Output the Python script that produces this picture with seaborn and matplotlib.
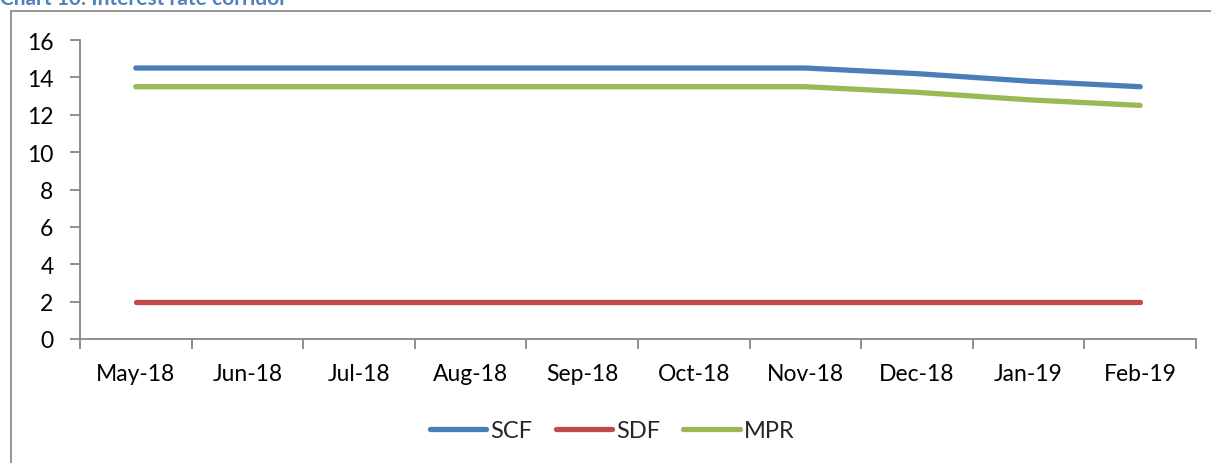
import pandas as pd
import matplotlib
matplotlib.use("Agg")
import matplotlib.pyplot as plt
import matplotlib.patches as mpatches
import seaborn as sns

# Data
months = ["May-18", "Jun-18", "Jul-18", "Aug-18", "Sep-18",
          "Oct-18", "Nov-18", "Dec-18", "Jan-19", "Feb-19"]
scf = [14.5, 14.5, 14.5, 14.5, 14.5, 14.5, 14.5, 14.2, 13.8, 13.5]
sdf = [2, 2, 2, 2, 2, 2, 2, 2, 2, 2]
mpr = [13.5, 13.5, 13.5, 13.5, 13.5, 13.5, 13.5, 13.2, 12.8, 12.5]
series_names = ["SCF", "SDF", "MPR"]
colors = ["#4A7EBB", "#BE4B48", "#98B954"]

df = pd.DataFrame({"month": months * 3,
                   "rate": scf + sdf + mpr,
                   "series": [s for s in series_names for _ in months]})

sns.set_style("white")
plt.rcParams['font.family'] = ['Lato', 'DejaVu Sans']

fig = plt.figure(figsize=(12.11, 4.64), dpi=100)
ax = fig.add_axes([80 / 1211, 1 - 340 / 464, (1196 - 80) / 1211, (340 - 41) / 464])

sns.lineplot(data=df, x="month", y="rate", hue="series", palette=colors,
             sort=False, linewidth=3.8, ax=ax, legend=False)
for line in ax.lines:
    line.set_solid_capstyle("round")

# axes styling, Excel-like
ax.set_xlim(-0.5, len(months) - 0.5)
ax.set_ylim(0, 16)
ax.set_yticks(range(0, 17, 2))
ax.set_xticks(range(len(months)))
ax.set_xticklabels(months)
ax.set_xticks([i - 0.5 for i in range(len(months) + 1)], minor=True)
ax.set_xlabel("")
ax.set_ylabel("")
for side in ["top", "right"]:
    ax.spines[side].set_visible(False)
for side in ["left", "bottom"]:
    ax.spines[side].set_color("#868686")
    ax.spines[side].set_linewidth(1.3)
ax.tick_params(axis="x", which="major", length=0, pad=17, labelsize=16.5, colors="black")
ax.tick_params(axis="x", which="minor", length=7, width=1.3, color="#868686", direction="out", bottom=True)
ax.tick_params(axis="y", length=7, width=1.3, color="#868686", direction="out", left=True,
               pad=12, labelsize=16.5, labelcolor="black")

# legend
handles = [plt.Line2D([], [], color=c, lw=3.8, solid_capstyle="round") for c in colors]
fig.legend(handles, series_names, loc="center", bbox_to_anchor=(612 / 1211, 1 - 432 / 464),
           ncol=3, frameon=False, fontsize=17, handlelength=2.4, handletextpad=0.15,
           columnspacing=1.0)

# chart frame and cut-off title (the reference crops it at the top edge)
fig.patches.append(mpatches.Rectangle((11 / 1211, -0.1), 1.2, 1 - 12 / 464 + 0.1,
                                      transform=fig.transFigure, fill=False,
                                      edgecolor="#8C8C8C", linewidth=1.3))
fig.text(0.0, 1 - 5 / 464, "Chart 10: Interest rate corridor", color="#4F81BD",
         fontsize=15, fontweight="bold", va="baseline", ha="left")

fig.savefig("out.png", dpi=100)
